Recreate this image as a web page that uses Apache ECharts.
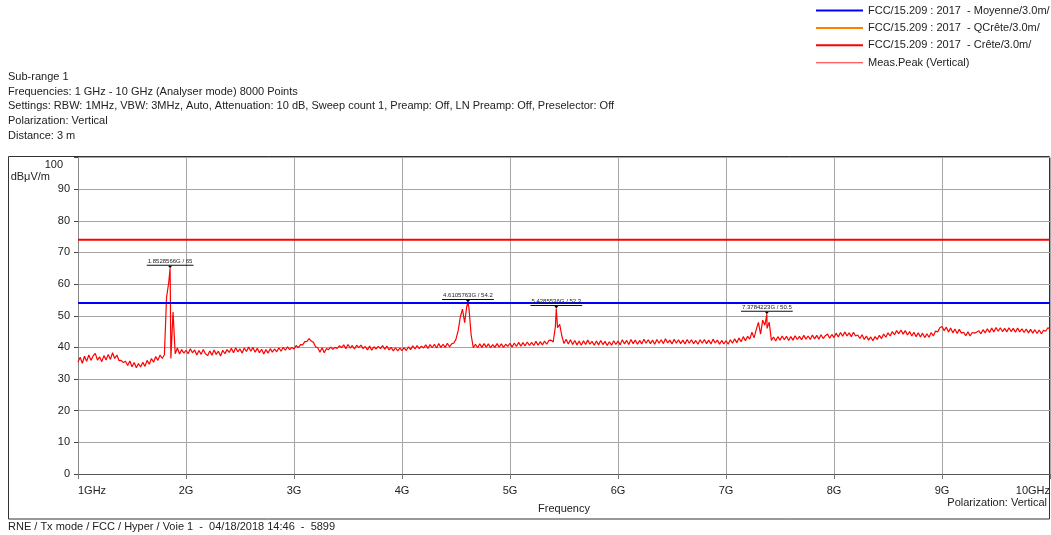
<!DOCTYPE html>
<html>
<head>
<meta charset="utf-8">
<script src="https://cdn.jsdelivr.net/npm/echarts@6/dist/echarts.min.js"></script>
<style>
  html, body { margin: 0; padding: 0; background: #fff; }
  #chart { width: 1051px; height: 535px; }
</style>
</head>
<body>
<div id="chart"></div>
<script>
const FONT = '"Liberation Sans", Arial, sans-serif';
const TEXT = '#222';

// Test header and footer
const headerLines = [
  'Sub-range 1',
  'Frequencies: 1 GHz - 10 GHz (Analyser mode) 8000 Points',
  'Settings: RBW: 1MHz, VBW: 3MHz, Auto, Attenuation: 10 dB, Sweep count 1, Preamp: Off, LN Preamp: Off, Preselector: Off',
  'Polarization: Vertical',
  'Distance: 3 m'
];
const footerText = 'RNE / Tx mode / FCC / Hyper / Voie 1  -  04/18/2018 14:46  -  5899';
const polarizationText = 'Polarization: Vertical';

// Series names
const nameAverage = 'FCC/15.209 : 2017  - Moyenne/3.0m/';
const nameQuasiPeak = 'FCC/15.209 : 2017  - QCrête/3.0m/';
const namePeak = 'FCC/15.209 : 2017  - Crête/3.0m/';
const nameMeasured = 'Meas.Peak (Vertical)';

// Axis tick labels (1 GHz .. 10 GHz)
const xTickValues = [1, 2, 3, 4, 5, 6, 7, 8, 9, 10];
const xTickLabels = ['1GHz', '2G', '3G', '4G', '5G', '6G', '7G', '8G', '9G', '10GHz'];

// Limit lines, dBµV/m
const limitAverage = 54;
const limitPeak = 74;
const limitQuasiPeak = []; // no quasi-peak limit above 1 GHz

// Measured peak trace, dBµV/m, sampled every 0.02 GHz from 1 GHz
const sweepStartGHz = 1;
const sweepStepGHz = 0.02;
const measuredDbuv = [
  35.4, 36.9, 35.0, 37.2, 35.6, 37.6, 35.9, 37.3, 38.1, 36.0,
  37.0, 35.5, 37.4, 36.0, 37.8, 36.2, 38.3, 36.5, 37.6, 35.8,
  35.9, 35.2, 35.6, 34.3, 35.7, 33.9, 35.2, 33.6, 34.9, 33.8,
  35.3, 34.0, 35.9, 34.7, 36.5, 35.3, 37.1, 35.9, 37.6, 36.5,
  37.7, 55.8, 60.5, 36.5, 51.2, 38.0, 39.8, 37.9, 39.3, 38.2,
  39.1, 38.0, 39.6, 38.3, 39.2, 37.6, 39.0, 37.8, 39.3, 38.0,
  37.4, 38.9, 37.5, 39.2, 37.8, 38.8, 37.3, 39.1, 38.0, 39.3,
  38.4, 39.7, 38.3, 39.9, 38.6, 39.5, 38.2, 39.8, 38.7, 40.1,
  38.8, 40.0, 38.5, 39.7, 38.3, 39.4, 37.9, 39.3, 38.2, 39.6,
  38.5, 39.5, 38.6, 39.9, 38.8, 40.0, 39.1, 40.2, 39.3, 40.0,
  39.5, 40.6, 39.9, 40.9, 40.8, 41.8, 41.9, 42.8, 42.0, 41.6,
  40.2, 39.9, 38.5, 39.9, 38.3, 39.6, 39.3, 40.1, 39.4, 40.0,
  39.7, 40.5, 39.9, 40.8, 39.6, 40.9, 39.8, 40.6, 39.5, 40.7,
  39.9, 40.7, 39.6, 40.3, 39.2, 40.4, 39.1, 40.2, 39.5, 40.3,
  39.6, 40.6, 39.4, 40.4, 39.2, 40.0, 38.9, 39.9, 38.9, 39.8,
  39.0, 39.9, 39.0, 40.2, 39.3, 40.5, 39.5, 40.6, 39.6, 40.4,
  39.8, 40.8, 39.7, 40.9, 39.9, 41.0, 39.8, 41.2, 40.0, 41.0,
  40.0, 41.3, 40.2, 41.1, 41.4, 42.6, 45.3, 49.6, 52.1, 47.8,
  53.0, 52.4, 44.0, 39.9, 41.0, 39.9, 41.1, 40.0, 41.2, 40.1,
  41.1, 39.9, 40.9, 40.0, 41.2, 40.1, 41.1, 40.0, 41.0, 40.3,
  41.3, 40.1, 41.4, 40.3, 41.6, 40.4, 41.5, 40.5, 41.7, 40.6,
  41.6, 40.6, 41.9, 40.7, 41.8, 40.8, 42.0, 41.0, 42.2, 42.3,
  41.7, 46.5, 46.2, 47.3, 43.6, 41.2, 42.6, 41.1, 42.4, 40.9,
  42.2, 40.8, 42.0, 40.7, 42.1, 40.9, 42.3, 41.0, 41.9, 40.7,
  42.0, 40.8, 42.2, 40.9, 41.9, 40.6, 41.8, 40.7, 42.1, 40.9,
  42.0, 40.8, 42.4, 41.1, 42.2, 40.9, 42.5, 41.2, 42.3, 41.0,
  42.2, 41.1, 42.6, 41.3, 42.4, 41.2, 42.3, 41.0, 42.5, 41.3,
  42.4, 41.2, 42.7, 41.4, 42.3, 41.1, 42.6, 41.3, 42.4, 41.2,
  42.3, 41.1, 42.5, 41.3, 42.4, 41.2, 42.2, 41.0, 42.4, 41.3,
  42.5, 41.2, 42.3, 41.1, 42.6, 41.4, 42.3, 41.0, 42.2, 41.1,
  42.1, 41.0, 42.4, 41.3, 42.7, 41.5, 43.0, 41.8, 43.4, 42.1,
  43.5, 42.6, 44.8, 43.0, 45.6, 47.9, 44.2, 48.6, 47.0, 46.0,
  48.0, 42.2, 43.3, 42.0, 43.4, 42.3, 43.6, 42.4, 43.5, 42.2,
  43.4, 42.3, 43.7, 42.5, 43.5, 42.4, 43.8, 42.6, 43.6, 42.5,
  43.9, 42.7, 43.8, 42.6, 44.0, 42.8, 43.7, 44.2, 42.9, 44.1,
  43.1, 44.5, 43.3, 44.7, 43.5, 44.9, 43.6, 44.6, 43.4, 44.8,
  43.6, 43.9, 42.8, 44.0, 42.5, 43.6, 42.3, 43.3, 42.1, 43.4,
  42.5, 43.8, 42.8, 44.2, 43.2, 44.6, 43.6, 45.0, 44.0, 45.3,
  44.3, 45.5, 44.2, 45.3, 43.9, 45.0, 43.6, 44.8, 43.4, 44.6,
  43.3, 44.5, 43.1, 44.3, 43.2, 44.7, 43.6, 45.2, 44.9, 46.2,
  46.6, 45.3, 46.4, 44.9, 46.1, 44.6, 45.8, 44.4, 45.7, 44.5,
  44.8, 43.7, 44.9, 43.6, 44.7, 44.5, 44.8, 45.3, 44.3, 45.6,
  44.6, 45.9, 44.7, 46.1, 44.9, 46.3, 45.1, 46.2, 45.0, 46.0,
  44.9, 46.2, 45.0, 46.0, 44.8, 46.1, 44.9, 45.9, 44.7, 45.8,
  44.6, 45.7, 44.5, 45.6, 44.4, 45.5, 44.3, 45.4, 45.1, 46.2,
  45.8
];

// Marked peaks
const peakFreqGHz = [1.8528566, 4.6105763, 5.4285536, 7.3784223];
const peakLevelDbuv = [65, 54.2, 52.3, 50.5];

// Trace points: sweep samples plus the marked peak samples, in frequency order
const tracePoints = measuredDbuv.map((v, i) => [+(sweepStartGHz + i * sweepStepGHz).toFixed(2), v]);
peakFreqGHz.forEach((f, i) => tracePoints.push([f, peakLevelDbuv[i]]));
tracePoints.sort((a, b) => a[0] - b[0]);

const fMin = xTickValues[0];
const fMax = xTickValues[xTickValues.length - 1];

const chart = echarts.init(document.getElementById('chart'), null, { renderer: 'canvas' });

const headerGraphics = headerLines.map((t, i) => ({
  type: 'text', x: 8, y: 77 + i * 14.7, silent: true,
  style: { text: t, fill: TEXT, fontSize: 11, fontFamily: FONT, verticalAlign: 'middle' }
}));

chart.setOption({
  animation: false,
  backgroundColor: '#fff',
  textStyle: { fontFamily: FONT },
  grid: { left: 78, right: 1, top: 157.5, bottom: 61, outerBoundsMode: 'none', containLabel: false },
  legend: {
    orient: 'vertical', left: 816, top: 4, padding: 0,
    itemWidth: 47, itemHeight: 2, itemGap: 4.4,
    selectedMode: false,
    textStyle: { fontSize: 11, lineHeight: 13, color: TEXT, fontFamily: FONT },
    data: [
      { name: nameAverage, icon: 'rect' },
      { name: nameQuasiPeak, icon: 'rect' },
      { name: namePeak, icon: 'rect' },
      { name: nameMeasured, icon: 'path://M0 0H47V1H0Z' }
    ]
  },
  xAxis: {
    type: 'value', min: fMin, max: fMax, interval: 1,
    name: 'Frequency', nameLocation: 'middle', nameGap: 29,
    nameTextStyle: { fontSize: 11, color: TEXT, fontFamily: FONT },
    axisLine: { show: true, lineStyle: { color: '#555', width: 1 } },
    axisTick: { show: true, length: 5, lineStyle: { color: '#777' } },
    axisLabel: {
      margin: 11, fontSize: 11, color: TEXT, fontFamily: FONT,
      alignMinLabel: 'left', alignMaxLabel: 'right',
      showMinLabel: true, showMaxLabel: true,
      formatter: v => xTickLabels[xTickValues.indexOf(Math.round(v))] ?? ''
    },
    splitLine: { show: true, lineStyle: { color: '#a6a6a6', width: 1 } }
  },
  yAxis: {
    type: 'value', min: 0, max: 100, interval: 10,
    name: 'dBμV/m', nameLocation: 'end', nameGap: -19,
    nameTextStyle: { fontSize: 11, color: TEXT, fontFamily: FONT, align: 'right', verticalAlign: 'middle', padding: [0, 28, 0, 0] },
    axisLine: { show: true, lineStyle: { color: '#888', width: 1 } },
    axisTick: { show: true, length: 4, lineStyle: { color: '#444' } },
    axisLabel: {
      margin: 8, fontSize: 11, color: TEXT, fontFamily: FONT,
      formatter: v => (v === 100 ? '{top|100}' : String(v)),
      rich: { top: { padding: [15, 7, 0, 0], fontSize: 11, color: TEXT, fontFamily: FONT } }
    },
    splitLine: { show: true, lineStyle: { color: '#a6a6a6', width: 1 } }
  },
  series: [
    {
      name: nameMeasured, type: 'line', data: tracePoints,
      symbol: 'none', silent: true, z: 2,
      lineStyle: { color: '#ff0000', width: 1.2 },
      itemStyle: { color: '#ff2a2a' },
      markPoint: {
        silent: true,
        symbol: 'triangle', symbolSize: [4, 2.5], symbolRotate: 180, symbolOffset: [0, -1.2],
        itemStyle: { color: '#000' },
        label: {
          show: true, position: 'top', distance: 0,
          formatter: p => '{t|' + p.name + '}\n{u| }',
          rich: {
            t: { fontSize: 6, lineHeight: 7, color: TEXT, fontFamily: FONT, padding: [0, 1], align: 'center' },
            u: { width: '100%', height: 1, lineHeight: 1, fontSize: 1, align: 'left', backgroundColor: '#111' }
          }
        },
        data: peakFreqGHz.map((f, i) => ({ name: f + 'G / ' + peakLevelDbuv[i], coord: [f, peakLevelDbuv[i]] }))
      }
    },
    {
      name: nameQuasiPeak, type: 'line', data: limitQuasiPeak,
      symbol: 'none', silent: true, z: 3,
      lineStyle: { color: '#ff8000', width: 2 }, itemStyle: { color: '#ff8000' }
    },
    {
      name: nameAverage, type: 'line', data: [[fMin, limitAverage], [fMax, limitAverage]],
      symbol: 'none', silent: true, z: 3,
      lineStyle: { color: '#0000ff', width: 2 }, itemStyle: { color: '#0000ff' }
    },
    {
      name: namePeak, type: 'line', data: [[fMin, limitPeak], [fMax, limitPeak]],
      symbol: 'none', silent: true, z: 3,
      lineStyle: { color: '#ff0000', width: 2 }, itemStyle: { color: '#ff0000' }
    }
  ],
  graphic: [
    ...headerGraphics,
    {
      type: 'rect', silent: true, z: 0,
      shape: { x: 8.5, y: 156.5, width: 1041, height: 362.5 },
      style: { fill: null, stroke: '#333', lineWidth: 1 }
    },
    {
      type: 'text', x: 1047, y: 503, silent: true,
      style: { text: polarizationText, fill: TEXT, fontSize: 11, fontFamily: FONT, align: 'right', verticalAlign: 'middle' }
    },
    {
      type: 'text', x: 8, y: 527, silent: true,
      style: { text: footerText, fill: TEXT, fontSize: 11, fontFamily: FONT, verticalAlign: 'middle' }
    }
  ]
});
</script>
</body>
</html>
